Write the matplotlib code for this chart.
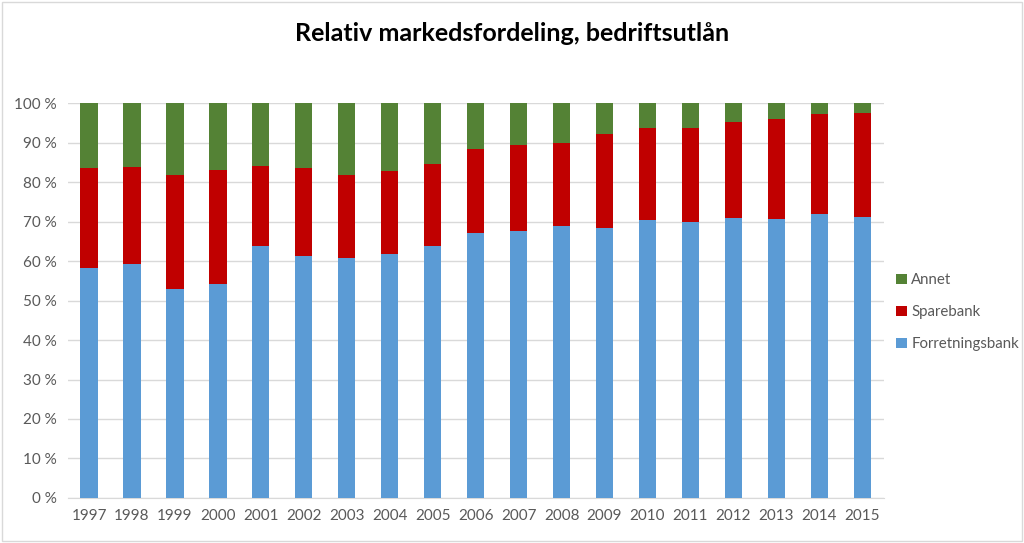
import numpy as np
import matplotlib.pyplot as plt
from matplotlib.patches import Rectangle

# Data (share in %)
years = ['1997', '1998', '1999', '2000', '2001', '2002', '2003', '2004', '2005', '2006',
         '2007', '2008', '2009', '2010', '2011', '2012', '2013', '2014', '2015']
forretningsbank = [58.3, 59.2, 53.0, 54.3, 63.9, 61.2, 60.8, 61.7, 63.9, 67.0,
                   67.7, 69.0, 68.3, 70.3, 69.9, 71.0, 70.7, 71.8, 71.2]
forr_plus_spare = [83.7, 83.9, 81.7, 83.0, 84.1, 83.6, 81.7, 82.7, 84.7, 88.4,
                   89.4, 89.8, 92.1, 93.7, 93.8, 95.2, 96.1, 97.2, 97.6]
sparebank = [t - f for t, f in zip(forr_plus_spare, forretningsbank)]
annet = [100 - t for t in forr_plus_spare]

plt.rcParams['font.family'] = ['Lato', 'DejaVu Sans']

fig = plt.figure(figsize=(10.24, 5.43), dpi=100)
ax = fig.add_axes([0.066, 0.083, 0.797, 0.727])

x = np.arange(len(years))
w = 0.4
c_blue = '#5b9bd5'
c_red = '#c00000'
c_green = '#548235'
ax.bar(x, forretningsbank, w, color=c_blue, label='Forretningsbank', zorder=3)
ax.bar(x, sparebank, w, bottom=forretningsbank, color=c_red, label='Sparebank', zorder=3)
ax.bar(x, annet, w, bottom=forr_plus_spare, color=c_green, label='Annet', zorder=3)

ax.set_xlim(-0.5, len(years) - 0.5)
ax.set_ylim(0, 100)
ax.set_yticks(np.arange(0, 101, 10))
ax.set_yticklabels([f'{v} %' for v in range(0, 101, 10)])
ax.set_xticks(x)
ax.set_xticklabels(years)
ax.grid(axis='y', color='#d9d9d9', linewidth=1, zorder=0)
for s in ['top', 'right', 'left']:
    ax.spines[s].set_visible(False)
ax.spines['bottom'].set_color('#d9d9d9')
ax.tick_params(length=0, labelsize=11, colors='#595959', pad=8)

handles, labels = ax.get_legend_handles_labels()
leg = fig.legend(handles[::-1], labels[::-1], loc='center left',
                 bbox_to_anchor=(0.862, 0.425), frameon=False, fontsize=10.8,
                 handlelength=0.7, handleheight=0.7, handletextpad=0.3,
                 labelspacing=1.2)
for t in leg.get_texts():
    t.set_color('#595959')

fig.text(0.5, 0.938, 'Relativ markedsfordeling, bedriftsutlån', ha='center', va='center',
         fontsize=18, fontweight='bold', color='black')

fig.patches.append(Rectangle((0.002, 0.003), 0.996, 0.994, transform=fig.transFigure,
                             fill=False, edgecolor='#d9d9d9', linewidth=1))

fig.savefig('out.png', dpi=100)
